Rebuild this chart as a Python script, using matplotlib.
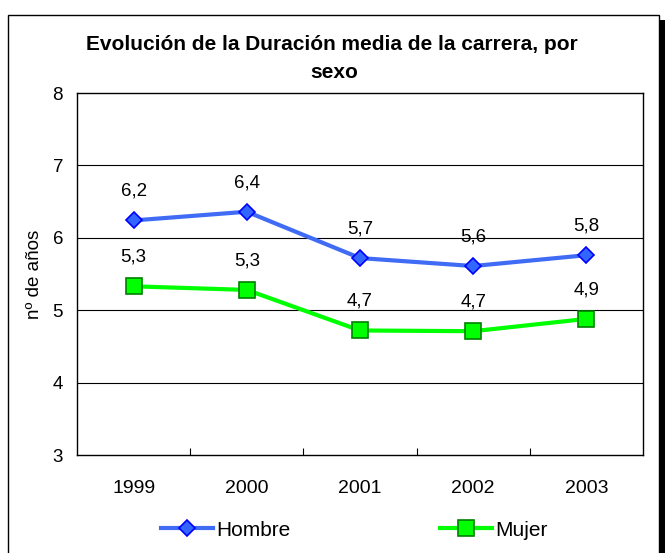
import matplotlib
matplotlib.use("Agg")
import matplotlib.pyplot as plt
from matplotlib.patches import Rectangle

plt.rcParams['font.family'] = ['Liberation Sans', 'DejaVu Sans']

years = ["1999", "2000", "2001", "2002", "2003"]
hombre = [6.24, 6.36, 5.72, 5.61, 5.76]
mujer = [5.33, 5.28, 4.72, 4.71, 4.88]


def label(v):
    return ("%.1f" % v).replace(".", ",")


fig = plt.figure(figsize=(6.65, 5.53), dpi=100)

# outer frame with shadow
W, H = 665.0, 553.0
fig.patches.append(Rectangle((660 / W, 0), 5 / W, (H - 20) / H, transform=fig.transFigure,
                             facecolor="black", edgecolor="none", zorder=0))
fig.patches.append(Rectangle((8 / W, -0.01), 651 / W, (H - 15) / H + 0.01, transform=fig.transFigure,
                             facecolor="white", edgecolor="black", linewidth=1.0, zorder=1))

ax = fig.add_axes([77 / W, 1 - 455 / H, 566 / W, 362 / H])
ax.set_zorder(2)
x = range(len(years))

ax.plot(x, hombre, color="#3f6bf5", linewidth=3, marker="D", markersize=8.5,
        markerfacecolor="#3366ff", markeredgecolor="#0000ff", markeredgewidth=1.2,
        label="Hombre", zorder=4)
ax.plot(x, mujer, color="#00ff00", linewidth=3, marker="s", markersize=12,
        markerfacecolor="#00ff00", markeredgecolor="#008000", markeredgewidth=1.2,
        label="Mujer", zorder=4)

for i in x:
    ax.annotate(label(hombre[i]), (i, hombre[i]), xytext=(0, 21), textcoords="offset points",
                ha="center", va="center", fontsize=13.5)
    ax.annotate(label(mujer[i]), (i, mujer[i]), xytext=(0, 21), textcoords="offset points",
                ha="center", va="center", fontsize=13.5)

ax.set_xlim(-0.5, len(years) - 0.5)
ax.set_ylim(3, 8)
ax.set_yticks([3, 4, 5, 6, 7, 8])
ax.set_yticklabels(["3", "4", "5", "6", "7", "8"], fontsize=13.5)
ax.tick_params(axis="y", length=0, pad=10)
ax.set_xticks([i + 0.5 for i in range(len(years) - 1)])
ax.set_xticklabels([])
ax.set_xticks(list(x), minor=True)
ax.set_xticklabels(years, minor=True, fontsize=14)
ax.tick_params(axis="x", which="major", direction="in", length=5, width=0.8)
ax.tick_params(axis="x", which="minor", length=0, pad=18)
for yv in [4, 5, 6, 7]:
    ax.axhline(yv, color="black", linewidth=0.8, zorder=1)
for s in ax.spines.values():
    s.set_linewidth(1.0)
ax.set_ylabel("nº de años", fontsize=13.5)
ax.yaxis.set_label_coords(-0.06, 0.5)

fig.text(0.499, 1 - 45 / H, "Evolución de la Duración media de la carrera, por",
         ha="center", va="center", fontsize=15, fontweight="bold")
fig.text(0.503, 1 - 72 / H, "sexo", ha="center", va="center", fontsize=15, fontweight="bold")

fig.legend(loc="center", bbox_to_anchor=(0.533, 1 - 530 / H), ncol=2, frameon=False,
           fontsize=15, columnspacing=7.2, handlelength=2.5, handletextpad=0.15)

fig.savefig("out.png", dpi=100)
